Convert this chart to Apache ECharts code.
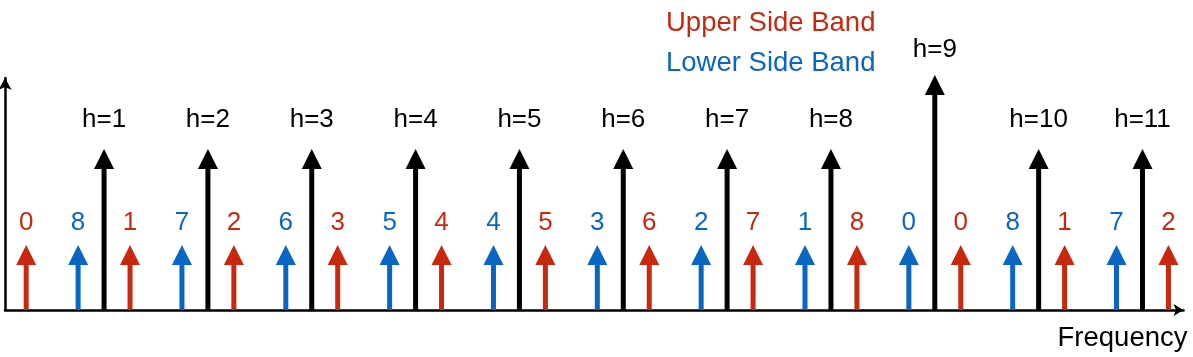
<!DOCTYPE html>
<html>
<head>
<meta charset="utf-8">
<script src="https://cdn.jsdelivr.net/npm/echarts@6/dist/echarts.min.js"></script>
<style>
html,body{margin:0;padding:0;background:#fff;}
#chart{width:1193px;height:357px;}
</style>
</head>
<body>
<div id="chart"></div>
<script>
// ---- data ----
const harmonicX = [1, 2, 3, 4, 5, 6, 7, 8, 9, 10, 11];
const harmonicH = [161, 161, 161, 161, 161, 161, 161, 161, 235, 161, 161];
const harmonicLabels = ['h=1','h=2','h=3','h=4','h=5','h=6','h=7','h=8','h=9','h=10','h=11'];

const upperX = [0.25, 1.25, 2.25, 3.25, 4.25, 5.25, 6.25, 7.25, 8.25, 9.25, 10.25, 11.25];
const upperH = [65, 65, 65, 65, 65, 65, 65, 65, 65, 65, 65, 65];
const upperLabels = ['0','1','2','3','4','5','6','7','8','0','1','2'];

const lowerX = [0.75, 1.75, 2.75, 3.75, 4.75, 5.75, 6.75, 7.75, 8.75, 9.75, 10.75];
const lowerH = [65, 65, 65, 65, 65, 65, 65, 65, 65, 65, 65];
const lowerLabels = ['8','7','6','5','4','3','2','1','0','8','7'];

const RED = '#C8280E';
const BLUE = '#0966C3';
const BLACK = '#000000';
const FONT = "'Liberation Sans', Arial, Helvetica, sans-serif";

function arrowRenderer(color, labels, labelGap) {
  return function (params, api) {
    const x = api.value(0), h = api.value(1);
    const base = api.coord([x, 0]);
    const tip = api.coord([x, h]);
    const headH = 20, headW = 20;
    const gap = h > 200 ? labelGap - 4 : labelGap;
    return {
      type: 'group',
      children: [
        { type: 'line',
          shape: { x1: base[0], y1: base[1], x2: tip[0], y2: tip[1] + headH - 1 },
          style: { stroke: color, lineWidth: 5 } },
        { type: 'polygon',
          shape: { points: [[tip[0], tip[1]], [tip[0] - headW / 2, tip[1] + headH], [tip[0] + headW / 2, tip[1] + headH]] },
          style: { fill: color } },
        { type: 'text', x: tip[0], y: tip[1] - gap,
          style: { text: labels[params.dataIndex], fill: color, font: '26px ' + FONT,
                   textAlign: 'center', textVerticalAlign: 'middle' } }
      ]
    };
  };
}

const chart = echarts.init(document.getElementById('chart'));
chart.setOption({
  animation: false,
  backgroundColor: '#fff',
  grid: { left: 5, right: 9.5, top: 78, bottom: 47 },
  legend: {
    orient: 'vertical',
    left: 656, top: 3,
    itemWidth: 0, itemHeight: 0, itemGap: 10,
    selectedMode: false,
    textStyle: { fontSize: 27.5, fontFamily: FONT, lineHeight: 30 },
    data: [
      { name: 'Upper Side Band', icon: 'none', textStyle: { color: RED } },
      { name: 'Lower Side Band', icon: 'none', textStyle: { color: BLUE } }
    ]
  },
  xAxis: {
    type: 'value', min: 0.046, max: 11.395,
    axisTick: { show: false }, axisLabel: { show: false }, splitLine: { show: false },
    axisLine: { show: true, onZero: false, symbol: ['none', 'arrow'], symbolSize: [9, 10],
                lineStyle: { color: BLACK, width: 2.5 } },
    name: 'Frequency', nameLocation: 'end', nameGap: 4,
    nameTextStyle: { fontSize: 27.5, fontFamily: FONT, color: BLACK, align: 'right',
                     verticalAlign: 'top', lineHeight: 27, padding: [15, 0, 0, 0] }
  },
  yAxis: {
    type: 'value', min: 0, max: 232,
    axisTick: { show: false }, axisLabel: { show: false }, splitLine: { show: false },
    axisLine: { show: true, onZero: false, symbol: ['none', 'arrow'], symbolSize: [10, 12],
                lineStyle: { color: BLACK, width: 2.5 } }
  },
  series: [
    { name: 'Upper Side Band', type: 'custom', color: RED,
      data: upperX.map((x, i) => [x, upperH[i]]),
      renderItem: arrowRenderer(RED, upperLabels, 22.5) },
    { name: 'Lower Side Band', type: 'custom', color: BLUE,
      data: lowerX.map((x, i) => [x, lowerH[i]]),
      renderItem: arrowRenderer(BLUE, lowerLabels, 22.5) },
    { name: 'Harmonics', type: 'custom', color: BLACK,
      data: harmonicX.map((x, i) => [x, harmonicH[i]]),
      renderItem: arrowRenderer(BLACK, harmonicLabels, 29) }
  ]
});
</script>
</body>
</html>
